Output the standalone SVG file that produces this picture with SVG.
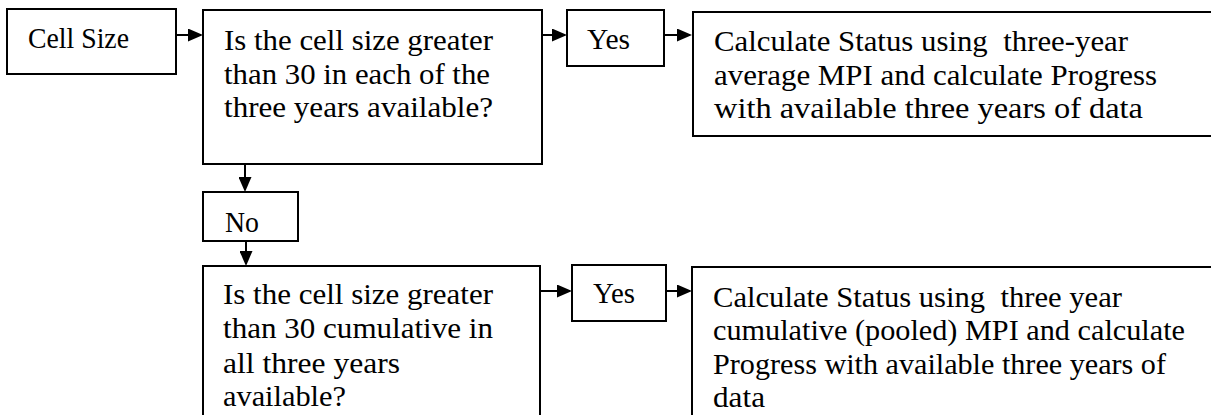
<svg xmlns="http://www.w3.org/2000/svg" width="1211" height="415" viewBox="0 0 1211 415">
<style>
  .box { fill: #ffffff; stroke: #000000; stroke-width: 2; }
  .t { font-family: 'Liberation Serif', 'DejaVu Serif', serif; font-size: 30px; fill: #000000; }
  .c { stroke: #000000; stroke-width: 2; fill: none; }
</style>
<defs>
  <marker id="arr" viewBox="0 0 15 13" refX="13" refY="6.5" markerWidth="15" markerHeight="13" markerUnits="userSpaceOnUse" orient="auto">
    <path d="M0,0 L15,6.5 L0,13 Z" fill="#000000"/>
  </marker>
</defs>
<rect width="1211" height="415" fill="#ffffff"/>

<g id="connectors">
  <line class="c" x1="176" y1="35" x2="201" y2="35" marker-end="url(#arr)"/>
  <line class="c" x1="542" y1="35" x2="565" y2="35" marker-end="url(#arr)"/>
  <line class="c" x1="664" y1="35" x2="690" y2="35" marker-end="url(#arr)"/>
  <line class="c" x1="245" y1="164" x2="245" y2="190" marker-end="url(#arr)"/>
  <line class="c" x1="246" y1="241" x2="246" y2="264" marker-end="url(#arr)"/>
  <line class="c" x1="540" y1="291" x2="570" y2="291" marker-end="url(#arr)"/>
  <line class="c" x1="666" y1="291" x2="690" y2="291" marker-end="url(#arr)"/>
</g>

<g id="cell-size">
  <rect class="box" x="7" y="9" width="169" height="65"/>
  <text class="t" x="28" y="48" textLength="101" lengthAdjust="spacingAndGlyphs">Cell Size</text>
</g>

<g id="question-1">
  <rect class="box" x="203" y="10" width="339" height="154"/>
  <text class="t" x="224" y="50" textLength="269" lengthAdjust="spacingAndGlyphs">Is the cell size greater</text>
  <text class="t" x="224" y="84" textLength="266" lengthAdjust="spacingAndGlyphs">than 30 in each of the</text>
  <text class="t" x="224" y="117" textLength="269" lengthAdjust="spacingAndGlyphs">three years available?</text>
</g>

<g id="yes-1">
  <rect class="box" x="567" y="10" width="97" height="56"/>
  <text class="t" x="587" y="49" textLength="43" lengthAdjust="spacingAndGlyphs">Yes</text>
</g>

<g id="result-1">
  <rect class="box" x="693" y="12" width="530" height="124"/>
  <text class="t" x="714" y="51" textLength="414" lengthAdjust="spacingAndGlyphs" xml:space="preserve">Calculate Status using  three-year</text>
  <text class="t" x="714" y="85" textLength="443" lengthAdjust="spacingAndGlyphs">average MPI and calculate Progress</text>
  <text class="t" x="714" y="118" textLength="429" lengthAdjust="spacingAndGlyphs">with available three years of data</text>
</g>

<g id="no">
  <rect class="box" x="203" y="192" width="95" height="49"/>
  <text class="t" x="225" y="232" textLength="34" lengthAdjust="spacingAndGlyphs">No</text>
</g>

<g id="question-2">
  <rect class="box" x="203" y="266" width="337" height="170"/>
  <text class="t" x="223" y="304" textLength="270" lengthAdjust="spacingAndGlyphs">Is the cell size greater</text>
  <text class="t" x="223" y="338" textLength="270" lengthAdjust="spacingAndGlyphs">than 30 cumulative in</text>
  <text class="t" x="223" y="373" textLength="177" lengthAdjust="spacingAndGlyphs">all three years</text>
  <text class="t" x="223" y="406" textLength="123" lengthAdjust="spacingAndGlyphs">available?</text>
</g>

<g id="yes-2">
  <rect class="box" x="572" y="265" width="94" height="56"/>
  <text class="t" x="593" y="303" textLength="42" lengthAdjust="spacingAndGlyphs">Yes</text>
</g>

<g id="result-2">
  <rect class="box" x="692" y="267" width="531" height="170"/>
  <text class="t" x="713" y="307" textLength="409" lengthAdjust="spacingAndGlyphs" xml:space="preserve">Calculate Status using  three year</text>
  <text class="t" x="713" y="340" textLength="472" lengthAdjust="spacingAndGlyphs">cumulative (pooled) MPI and calculate</text>
  <text class="t" x="713" y="374" textLength="453" lengthAdjust="spacingAndGlyphs">Progress with available three years of</text>
  <text class="t" x="713" y="407" textLength="52" lengthAdjust="spacingAndGlyphs">data</text>
</g>
</svg>
